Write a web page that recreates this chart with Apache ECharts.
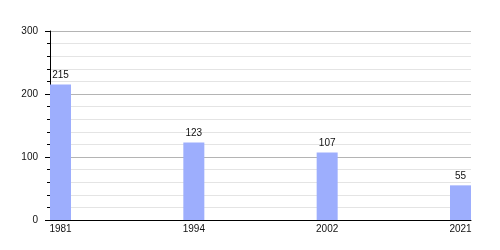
<!DOCTYPE html>
<html><head><meta charset="utf-8">
<script src="https://cdn.jsdelivr.net/npm/echarts@6/dist/echarts.min.js"></script>
<style>html,body{margin:0;padding:0;background:#fff}#c{width:500px;height:250px}</style>
</head><body><div id="c"></div>
<script>
const years = ['1981', '1994', '2002', '2021'];
const values = [215, 123, 107, 55];
const yTicks = [0, 100, 200, 300];

const chart = echarts.init(document.getElementById('c'), null, {renderer: 'canvas'});
chart.setOption({
  animation: false,
  grid: {left: 50, right: 29, top: 31, bottom: 30},
  xAxis: {
    type: 'value',
    min: -0.07875,
    max: 3.07875,
    splitLine: {show: false},
    axisTick: {show: false},
    axisLine: {show: true, onZero: false, lineStyle: {color: '#000', width: 1}},
    axisLabel: {
      margin: 4,
      fontFamily: 'Liberation Sans',
      fontSize: 10,
      color: '#111',
      showMinLabel: false,
      showMaxLabel: false,
      formatter: v => (Number.isInteger(v) && years[v] !== undefined) ? years[v] : ''
    }
  },
  yAxis: {
    type: 'value',
    min: yTicks[0],
    max: yTicks[yTicks.length - 1],
    interval: 100,
    axisLine: {show: true, onZero: false, lineStyle: {color: '#000', width: 1}},
    axisTick: {show: true, length: 5, lineStyle: {color: '#000'}},
    minorTick: {show: true, splitNumber: 5, length: 3, lineStyle: {color: '#000'}},
    splitLine: {show: true, lineStyle: {color: '#b4b4b4', width: 1}},
    minorSplitLine: {show: true, lineStyle: {color: '#e4e4e4', width: 1}},
    axisLabel: {margin: 12, fontFamily: 'Liberation Sans', fontSize: 10, color: '#111'}
  },
  series: [{
    type: 'bar',
    barWidth: 21,
    data: values.map((v, i) => [i, v]),
    itemStyle: {color: '#9daefd'},
    label: {show: true, position: 'top', distance: 4, fontFamily: 'Liberation Sans', fontSize: 10, color: '#111'}
  }]
});
</script></body></html>
